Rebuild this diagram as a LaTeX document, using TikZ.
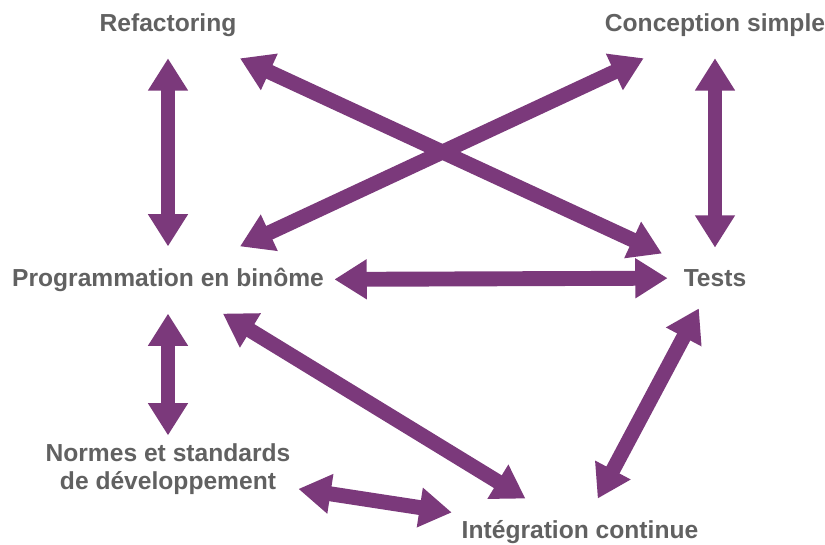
\documentclass[tikz,border=0pt]{standalone}
\usepackage{fontspec}
\setmainfont{Liberation Sans}
\usepackage{tikz}
\usetikzlibrary{arrows.meta}
\definecolor{pratiqueviolet}{RGB}{123,57,123}
\definecolor{pratiquegris}{RGB}{97,97,97}

\begin{document}
\begin{tikzpicture}[x=0.025cm,y=-0.025cm,
                      pratique/.style={font=\bfseries\fontsize{17.5}{20}\selectfont, text=pratiquegris, inner sep=0pt, outer sep=15.5pt, align=center},
                      lien/.style={draw=pratiqueviolet, line width=10.6pt, {Triangle[length=23pt,width=27pt]}-{Triangle[length=23pt,width=27pt]}}]
                      \useasboundingbox (0,0) rectangle (825,545);
                      \node[pratique] (refact) at (168,25) {Refactoring};
                      \node[pratique] (concept) at (715,25) {Conception simple};
                      \node[pratique] (prog) at (168,280) {Programmation en binôme};
                      \node[pratique] (tests) at (715,278) {Tests};
                      \node[pratique, outer sep=5.7pt] (normes) at (168,469) {Normes et standards\\de développement};
                      \node[pratique] (integ) at (580,532) {Intégration continue};
                      \draw[lien] (refact) -- (prog);
                      \draw[lien] (concept) -- (tests);
                      \draw[lien] (refact) -- (tests);
                      \draw[lien] (concept) -- (prog);
                      \draw[lien, shorten <=-8pt, shorten >=-4pt] (prog) -- (tests);
                      \draw[lien] (prog) -- (normes);
                      \draw[lien] (prog) -- (integ);
                      \draw[lien] (tests) -- (integ);
                      \draw[lien, shorten >=-8.5pt] (normes) -- (integ);
                  \end{tikzpicture}
\end{document}
